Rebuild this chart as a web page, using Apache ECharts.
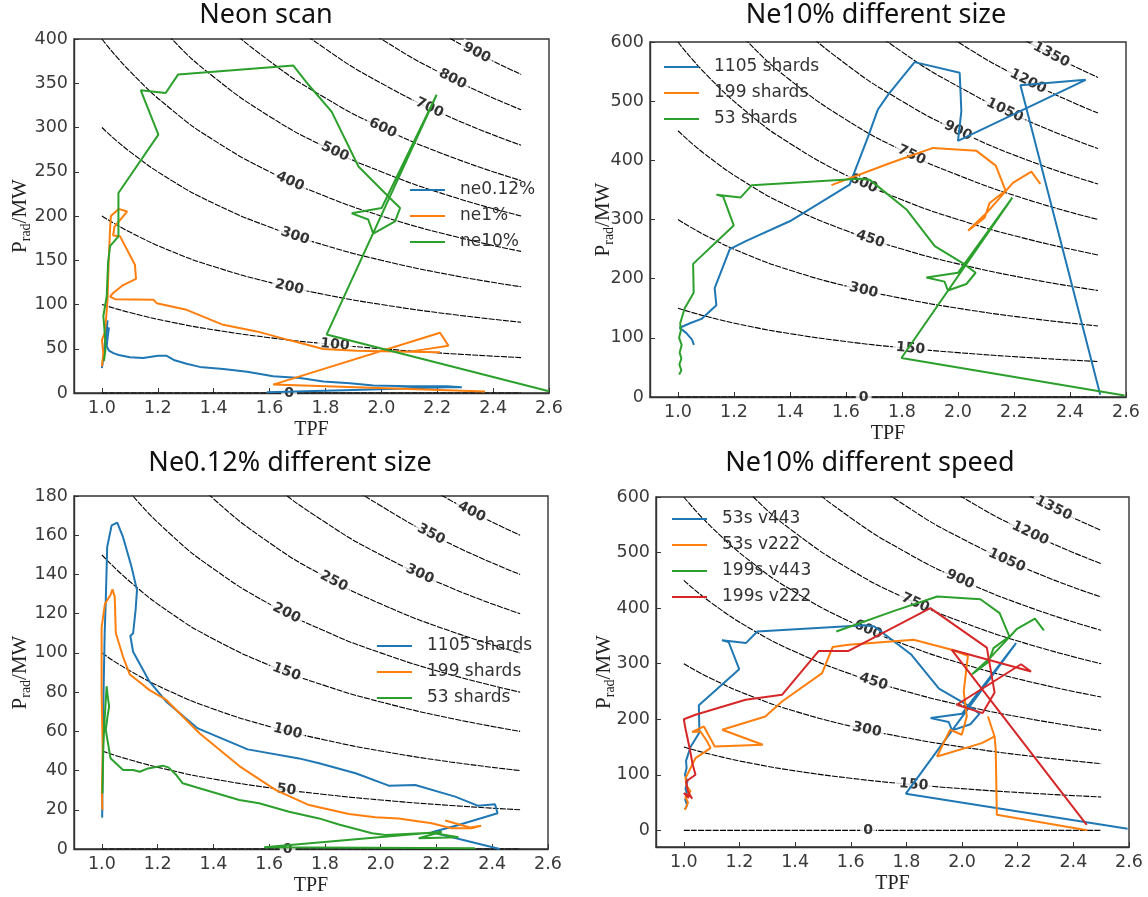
<!DOCTYPE html>
<html><head><meta charset="utf-8">
<script src="https://cdn.jsdelivr.net/npm/echarts@6/dist/echarts.min.js"></script>
<style>html,body{margin:0;padding:0;background:#fff}#c{width:1148px;height:897px}</style>
</head><body><div id="c"></div>
<script>
// ---------- tick labels ----------
const TPF_TICKS = [1.0, 1.2, 1.4, 1.6, 1.8, 2.0, 2.2, 2.4, 2.6];
const Y_TICKS_NEON = [0, 50, 100, 150, 200, 250, 300, 350, 400];
const Y_TICKS_SIZE10 = [0, 100, 200, 300, 400, 500, 600];
const Y_TICKS_SIZE012 = [0, 20, 40, 60, 80, 100, 120, 140, 160, 180];
const Y_TICKS_SPEED = [0, 100, 200, 300, 400, 500, 600];

// ---------- contour lines ----------
const CONTOUR_TPF = [1.0, 1.1, 1.25, 1.4, 1.6, 1.8, 2.0, 2.25, 2.5];
const C0    = [0, 0, 0, 0, 0, 0, 0, 0, 0];
const C50   = [50, 45.5, 40, 35.7, 31.25, 27.8, 25, 22.2, 20];
const C100  = [100, 90.9, 80, 71.4, 62.5, 55.6, 50, 44.4, 40];
const C150  = [150, 136.4, 120, 107.1, 93.75, 83.3, 75, 66.7, 60];
const C200  = [200, 181.8, 160, 142.9, 125, 111.1, 100, 88.9, 80];
const C250  = [250, 227.3, 200, 178.6, 156.25, 138.9, 125, 111.1, 100];
const C300  = [300, 272.7, 240, 214.3, 187.5, 166.7, 150, 133.3, 120];
const C350  = [350, 318.2, 280, 250, 218.75, 194.4, 175, 155.6, 140];
const C400  = [400, 363.6, 320, 285.7, 250, 222.2, 200, 177.8, 160];
const C450  = [450, 409.1, 360, 321.4, 281.25, 250, 225, 200, 180];
const C500  = [500, 454.5, 400, 357.1, 312.5, 277.8, 250, 222.2, 200];
const C600  = [600, 545.5, 480, 428.6, 375, 333.3, 300, 266.7, 240];
const C700  = [700, 636.4, 560, 500, 437.5, 388.9, 350, 311.1, 280];
const C750  = [750, 681.8, 600, 535.7, 468.75, 416.7, 375, 333.3, 300];
const C800  = [800, 727.3, 640, 571.4, 500, 444.4, 400, 355.6, 320];
const C900  = [900, 818.2, 720, 642.9, 562.5, 500, 450, 400, 360];
const C1050 = [1050, 954.5, 840, 750, 656.25, 583.3, 525, 466.7, 420];
const C1200 = [1200, 1090.9, 960, 857.1, 750, 666.7, 600, 533.3, 480];
const C1350 = [1350, 1227.3, 1080, 964.3, 843.75, 750, 675, 600, 540];

// contour labels: [level, TPF, P]
const LBL_NEON = [[0,1.67,0],[100,1.834,54.5],[200,1.671,119.7],[300,1.691,177.4],[400,1.673,239],[500,1.834,272.6],[600,2.005,299.3],[700,2.172,322.3],[800,2.255,354.8],[900,2.341,384.5]];
const LBL_SIZE10 = [[0,1.663,0],[150,1.83,82],[300,1.663,180.4],[450,1.687,266.7],[600,1.663,360.8],[750,1.834,409],[900,2.0,450],[1050,2.167,484.5],[1200,2.25,533.3],[1350,2.333,578.6]];
const LBL_SIZE012 = [[0,1.666,0],[50,1.662,30.1],[100,1.666,60],[150,1.662,90.3],[200,1.662,120.3],[250,1.832,136.5],[300,2.14,140.2],[350,2.181,160.5],[400,2.326,172]];
const LBL_SPEED = [[0,1.662,0],[150,1.826,82.1],[300,1.658,181],[450,1.682,267.5],[600,1.662,361],[750,1.832,409.4],[900,1.993,451.6],[1050,2.161,485.9],[1200,2.245,534.5],[1350,2.329,579.6]];

// ---------- series values [TPF, Prad] ----------
const NEON_012 = [[1.0,28],[1.005,40],[1.01,55],[1.015,68],[1.02,82],[1.017,70],[1.025,74],[1.02,62],[1.017,53],[1.025,48],[1.041,45],[1.06,43],[1.1,40.5],[1.148,39.5],[1.2,42],[1.232,42],[1.26,37],[1.303,33],[1.35,29.5],[1.434,27],[1.52,24],[1.613,19],[1.709,17],[1.792,13],[1.888,11],[1.971,8.5],[2.1,7.5],[2.234,7.5],[2.288,6.5],[2.234,6.5],[1.9,3.5],[1.59,0.8]];
const NEON_1 = [[1.0,30],[1.005,45],[1.0,60],[1.01,68],[1.015,85],[1.02,105],[1.024,147],[1.029,185],[1.032,200],[1.06,208],[1.09,205],[1.045,188],[1.04,178],[1.065,177],[1.118,145],[1.122,129],[1.076,122],[1.04,113],[1.029,109],[1.047,106],[1.184,105.5],[1.196,101.5],[1.303,94],[1.434,77],[1.554,69.6],[1.673,59.5],[1.792,49.7],[1.911,47.8],[2.1,46.5],[2.21,46],[2.1,46.5],[2.15,49],[2.24,53.5],[2.21,68],[1.613,9.5],[2.371,1.8]];
const NEON_10 = [[1.007,36],[1.013,50],[1.01,68],[1.005,87],[1.017,109],[1.022,147],[1.029,166],[1.059,177],[1.059,226],[1.202,292],[1.139,342],[1.228,339],[1.273,360],[1.685,370],[1.74,348],[1.822,318],[1.918,256],[2.025,222],[2.067,209],[2.049,194],[1.971,180],[1.953,196],[1.894,203],[2.001,209],[2.198,337],[1.804,66],[2.6,2]];

const SIZE10_1105 = [[1.057,88],[1.05,97],[1.03,108],[1.006,117],[1.045,125],[1.084,132],[1.137,155],[1.131,184],[1.185,250],[1.244,264],[1.399,297],[1.613,359],[1.679,440],[1.714,486],[1.752,512],[1.845,566],[2.006,548],[2.012,483],[2.0,433],[2.456,536],[2.223,527],[2.508,4]];
const SIZE10_199 = [[1.548,358],[1.756,395],[1.911,421],[2.066,416],[2.135,391],[2.17,349],[2.113,328],[2.095,303],[2.036,281],[2.1,310],[2.15,337],[2.196,362],[2.262,381],[2.294,360]];
const SIZE10_53 = [[1.004,38],[1.012,45],[1.005,55],[1.012,65],[1.006,75],[1.013,88],[1.004,100],[1.01,112],[1.008,125],[1.024,150],[1.056,176],[1.054,225],[1.199,290],[1.161,339],[1.137,342],[1.223,337],[1.264,358],[1.649,369],[1.685,367],[1.816,317],[1.917,255],[2.024,224],[2.063,210],[2.03,191],[1.964,180],[1.952,195],[1.887,202],[2.0,210],[2.194,337],[1.798,66],[2.595,2.7]];

const SIZE012_1105 = [[1.001,16],[1.003,40],[1.006,80],[1.01,110],[1.014,127],[1.019,154],[1.035,165],[1.055,166.4],[1.076,159],[1.106,144],[1.126,132],[1.121,122],[1.112,110],[1.102,108.6],[1.112,100.6],[1.171,85.3],[1.231,75.1],[1.344,61.5],[1.523,50.8],[1.707,46.2],[1.779,43.7],[1.91,38.6],[2.029,32.3],[2.124,32.6],[2.267,26.7],[2.35,22],[2.41,22.8],[2.419,18.2],[2.279,12.2],[2.183,8.5],[2.427,0]];
const SIZE012_199 = [[1.002,20],[1.0,28],[1.003,50],[0.999,80],[0.999,113],[1.011,125],[1.031,129.5],[1.038,132.4],[1.046,128.7],[1.05,110],[1.076,98],[1.1,89],[1.136,85],[1.171,81],[1.231,76],[1.35,59],[1.493,42.3],[1.624,30],[1.743,22.4],[1.886,17.8],[1.981,16.2],[2.064,15.6],[2.183,13.1],[2.254,10.6],[2.326,10.6],[2.36,11.8],[2.32,11],[2.231,14.5]];
const SIZE012_53 = [[1.002,28.4],[1.005,50.5],[1.008,62],[1.014,76],[1.017,83],[1.02,79],[1.026,72.6],[1.02,67.5],[1.014,60.7],[1.022,53.9],[1.031,46.3],[1.05,43.7],[1.076,40.3],[1.112,40.3],[1.136,39.4],[1.165,41.1],[1.219,42.5],[1.24,41.5],[1.267,37.7],[1.29,33.5],[1.35,31],[1.493,25],[1.564,23.3],[1.671,19],[1.779,15.6],[1.85,12.5],[1.969,8],[2.017,7.1],[2.183,8.3],[2.279,6],[2.136,5.5],[2.219,8.8],[1.582,0.9],[2.338,0.4]];

const SPEED_53_443 = SIZE10_53;
const SPEED_53_222 = [[1.004,37],[1.015,50],[1.006,60],[1.024,70],[1.01,80],[1.006,94],[1.018,106],[1.042,130],[1.096,148],[1.084,160],[1.06,178],[1.03,177],[1.072,187],[1.111,151],[1.284,154],[1.138,181],[1.293,205],[1.353,232],[1.497,283],[1.535,330],[1.592,334],[1.826,343],[1.963,325],[2.021,314],[2.006,250],[2.017,205],[1.999,172],[1.957,181],[1.91,133],[2.071,157],[2.117,169],[2.093,205],[2.117,169],[2.121,145],[2.125,28],[2.45,0]];
const SPEED_199_443 = SIZE10_199;
const SPEED_199_222 = [[1.018,58],[1.0,67],[1.024,61],[1.03,57],[1.015,70],[1.008,88],[1.042,100],[1.032,118],[1.02,150],[1.005,185],[1.0,200],[1.042,208],[1.222,235],[1.353,244],[1.485,323],[1.592,323],[1.886,400],[2.089,329],[2.117,248],[2.074,211],[1.981,226],[2.212,299],[2.248,286],[1.963,325],[2.448,10]];

// ---------- build ----------
const CONTOURS = {0:C0,50:C50,100:C100,150:C150,200:C200,250:C250,300:C300,350:C350,400:C400,450:C450,500:C500,600:C600,700:C700,750:C750,800:C800,900:C900,1050:C1050,1200:C1200,1350:C1350};
const BLUE='#1f77b4', ORANGE='#ff7f0e', GREEN='#2ca02c', RED='#d62728';

const panels = [
  {title:'Neon scan', tx:266, ty:2, grid:{left:74, top:39, width:475, height:354}, ymin:0, ymax:400, yticks:Y_TICKS_NEON, nameGap:41,
   labels:LBL_NEON, rot:[0,5.4,12.8,18.4,24.4,25.2,25.3,25.2,26.5,27.5],
   series:[['ne0.12%',NEON_012,BLUE],['ne1%',NEON_1,ORANGE],['ne10%',NEON_10,GREEN]],
   legend:{left:410, top:180}},
  {title:'Ne10% different size', tx:876, ty:2, grid:{left:650, top:42, width:476, height:355}, ymin:0, ymax:600, yticks:Y_TICKS_SIZE10, nameGap:34,
   labels:LBL_SIZE10, rot:[0,5.4,12.9,18.5,24.6,25.2,25.4,25.3,26.6,27.7],
   series:[['1105 shards',SIZE10_1105,BLUE],['199 shards',SIZE10_199,ORANGE],['53 shards',SIZE10_53,GREEN]],
   legend:{left:664, top:57}},
  {title:'Ne0.12% different size', tx:290, ty:450, grid:{left:74, top:496, width:474, height:353}, ymin:0, ymax:180, yticks:Y_TICKS_SIZE012, nameGap:41,
   labels:LBL_SIZE012, rot:[0,7.2,14.2,20.8,26.9,27.6,24.6,27.3,27.4],
   series:[['1105 shards',SIZE012_1105,BLUE],['199 shards',SIZE012_199,ORANGE],['53 shards',SIZE012_53,GREEN]],
   legend:{left:377, top:636}},
  {title:'Ne10% different speed', tx:870, ty:450, grid:{left:656, top:497, width:473, height:350}, ymin:-30, ymax:600, yticks:Y_TICKS_SPEED, nameGap:39,
   labels:LBL_SPEED, rot:[0,5.1,12.2,17.6,23.4,24,24.2,24.1,25.4,26.4],
   series:[['53s v443',SPEED_53_443,BLUE],['53s v222',SPEED_53_222,ORANGE],['199s v443',SPEED_199_443,GREEN],['199s v222',SPEED_199_222,RED]],
   legend:{left:672, top:509}}
];

const option = {animation:false, backgroundColor:'#fff', title:[], legend:[], grid:[], xAxis:[], yAxis:[], series:[]};
const tickFont = {fontFamily:'DejaVu Sans', fontSize:17.5, color:'#3a3a3a'};
panels.forEach((p, i) => {
  option.title.push({text:p.title, left:p.tx, top:p.ty, textAlign:'center', padding:0,
    textStyle:{fontFamily:'Noto Sans', fontSize:27, fontWeight:'normal', color:'#111'}});
  option.grid.push(Object.assign({show:true, borderColor:'#333', borderWidth:1.4, backgroundColor:'transparent', containLabel:false, outerBoundsMode:'none'}, p.grid));
  option.xAxis.push({type:'value', gridIndex:i, min:0.9, max:2.6,
    axisLine:{show:true, onZero:false, lineStyle:{color:'#333', width:1.4}},
    axisTick:{show:true, inside:true, length:5, customValues:TPF_TICKS, lineStyle:{color:'#333'}},
    axisLabel:Object.assign({customValues:TPF_TICKS, margin:6, formatter:v=>v.toFixed(1), hideOverlap:false, showMinLabel:true, showMaxLabel:true}, tickFont),
    splitLine:{show:false},
    name:'TPF', nameLocation:'middle', nameGap:27, nameMoveOverlap:false,
    nameTextStyle:{fontFamily:'Liberation Serif', fontSize:20, color:'#222'}});
  option.yAxis.push({type:'value', gridIndex:i, min:p.ymin, max:p.ymax,
    axisLine:{show:true, onZero:false, lineStyle:{color:'#333', width:1.4}},
    axisTick:{show:true, inside:true, length:5, customValues:p.yticks, lineStyle:{color:'#333'}},
    axisLabel:Object.assign({customValues:p.yticks, margin:6, hideOverlap:false, showMinLabel:true, showMaxLabel:true}, tickFont),
    splitLine:{show:false},
    name:'{p|P}{s|rad}{p|/MW}', nameLocation:'middle', nameGap:p.nameGap, nameMoveOverlap:false,
    nameTextStyle:{rich:{p:{fontFamily:'Liberation Serif', fontSize:21, color:'#222', lineHeight:25}, s:{fontFamily:'Liberation Serif', fontSize:14, color:'#222', verticalAlign:'bottom'}}}});
  // contour lines
  p.labels.forEach(l => {
    const arr = CONTOURS[l[0]];
    option.series.push({type:'line', xAxisIndex:i, yAxisIndex:i, silent:true, smooth:0.5, symbol:'none', showSymbol:false, z:1,
      data:CONTOUR_TPF.map((t, k) => [t, arr[k]]),
      lineStyle:{color:'#000', width:1.1, type:[6,1.2]}});
  });
  // contour labels
  option.series.push({type:'scatter', xAxisIndex:i, yAxisIndex:i, silent:true, symbolSize:0.1, z:2,
    itemStyle:{color:'transparent'},
    data:p.labels.map((l, k) => ({value:[l[1], l[2]], label:{show:true, position:'inside', formatter:String(l[0]), rotate:-p.rot[k],
      fontFamily:'DejaVu Sans', fontSize:14, fontWeight:'bold', color:'#000', backgroundColor:'#fff', padding:[0,3]}}))});
  // data lines
  p.series.forEach(s => {
    option.series.push({type:'line', name:s[0], xAxisIndex:i, yAxisIndex:i, data:s[1], symbol:'none', showSymbol:false, z:3,
      lineStyle:{color:s[2], width:2}, itemStyle:{color:s[2]}});
  });
  option.legend.push({left:p.legend.left, top:p.legend.top, orient:'vertical', padding:0, itemGap:6,
    data:p.series.map(s => s[0]), icon:'rect', itemWidth:35, itemHeight:2.2, selectedMode:false,
    textStyle:{fontFamily:'DejaVu Sans', fontSize:17, color:'#333', lineHeight:20, padding:[0,0,0,10]}});
});

const chart = echarts.init(document.getElementById('c'), null, {renderer:'canvas'});
chart.setOption(option);
</script></body></html>
